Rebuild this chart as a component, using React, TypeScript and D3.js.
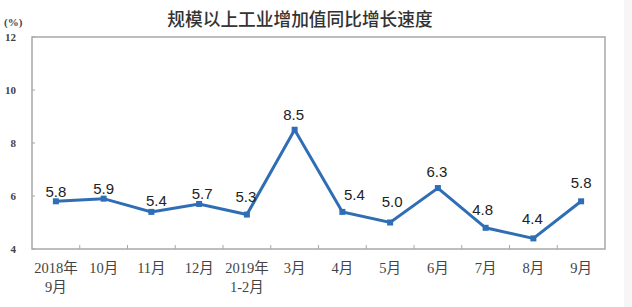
import React from "react";
import * as d3 from "d3";

const categories: string[][] = [
  ["2018年", "9月"],
  ["10月"],
  ["11月"],
  ["12月"],
  ["2019年", "1-2月"],
  ["3月"],
  ["4月"],
  ["5月"],
  ["6月"],
  ["7月"],
  ["8月"],
  ["9月"],
];
const values: number[] = [5.8, 5.9, 5.4, 5.7, 5.3, 8.5, 5.4, 5.0, 6.3, 4.8, 4.4, 5.8];
const yTicks: number[] = [4, 6, 8, 10, 12];
const title = "规模以上工业增加值同比增长速度";
const unit = "(%)";

// label nudges (relative to points)
const labelDx: number[] = [0, 0, 5, 3, -1, -1, 12, 2, -1, -3, -1, 0];
const labelDy: number[] = [-4, -5, -6, -5, -13, -10, -12, -16, -11, -13, -14, -13];

const W = 632;
const H = 307;
const margin = { left: 32, right: 605, top: 37, bottom: 249 };

export default function App() {
  const x = d3
    .scaleBand<number>()
    .domain(values.map((_, i) => i))
    .range([margin.left, margin.right])
    .paddingInner(0)
    .paddingOuter(0);
  const y = d3.scaleLinear().domain([4, 12]).range([margin.bottom, margin.top]);
  const cx = (i: number) => (x(i) as number) + x.bandwidth() / 2;
  const line = d3
    .line<number>()
    .x((_, i) => cx(i))
    .y((d) => y(d));

  const axisColor = "#a8a8a8";
  const serif = "'Liberation Serif', 'Times New Roman', 'Noto Sans CJK SC', serif";
  const sans = "'Liberation Sans', Arial, sans-serif";

  const boundaries = d3.range(1, values.length).map((i) => x(i) as number);

  return (
    <svg
      width={W}
      height={H}
      style={{ position: "absolute", left: 0, top: 0, background: "#fff" }}
    >
      <rect x={624} y={0} width={8} height={H} fill="#f6f6f6" />
      <text
        x={300}
        y={26}
        textAnchor="middle"
        fontFamily="'Noto Sans CJK SC', sans-serif"
        fontSize={17.7}
        fontWeight={500}
        fill="#333"
      >
        {title}
      </text>
      <text x={4} y={26} fontFamily={serif} fontSize={11} fontWeight="bold" fill="#444">
        {unit}
      </text>
      {/* frame */}
      <rect
        x={margin.left}
        y={margin.top}
        width={margin.right - margin.left}
        height={margin.bottom - margin.top}
        fill="none"
        stroke={axisColor}
        strokeWidth={1.5}
      />
      {/* y ticks */}
      {yTicks.map((t) => (
        <g key={t}>
          <line
            x1={margin.left}
            x2={margin.left + 3}
            y1={y(t)}
            y2={y(t)}
            stroke={axisColor}
            strokeWidth={1}
          />
          <text
            x={16}
            y={y(t) + 4}
            textAnchor="end"
            fontFamily={serif}
            fontSize={11}
            fontWeight="bold"
            fill="#444"
          >
            {t}
          </text>
        </g>
      ))}
      {/* x ticks */}
      {boundaries.map((bx, i) => (
        <line
          key={i}
          x1={bx}
          x2={bx}
          y1={margin.bottom}
          y2={margin.bottom - 4}
          stroke={axisColor}
          strokeWidth={1}
        />
      ))}
      {/* x labels */}
      {categories.map((lines, i) => (
        <text
          key={i}
          textAnchor="middle"
          fontFamily={serif}
          fontSize={14.5}
          fill="#444"
        >
          {lines.map((l, j) => (
            <tspan key={j} x={cx(i)} y={273 + j * 19}>
              {l}
            </tspan>
          ))}
        </text>
      ))}
      {/* line */}
      <path
        d={line(values) || ""}
        fill="none"
        stroke="#2f6db5"
        strokeWidth={3}
        strokeLinejoin="miter"
      />
      {values.map((v, i) => (
        <rect
          key={i}
          x={cx(i) - 3}
          y={y(v) - 3}
          width={6}
          height={6}
          fill="#2f6db5"
        />
      ))}
      {values.map((v, i) => (
        <text
          key={i}
          x={cx(i) + labelDx[i]}
          y={y(v) + labelDy[i]}
          textAnchor="middle"
          fontFamily={sans}
          fontSize={15}
          fill="#222"
        >
          {v.toFixed(1)}
        </text>
      ))}
    </svg>
  );
}
